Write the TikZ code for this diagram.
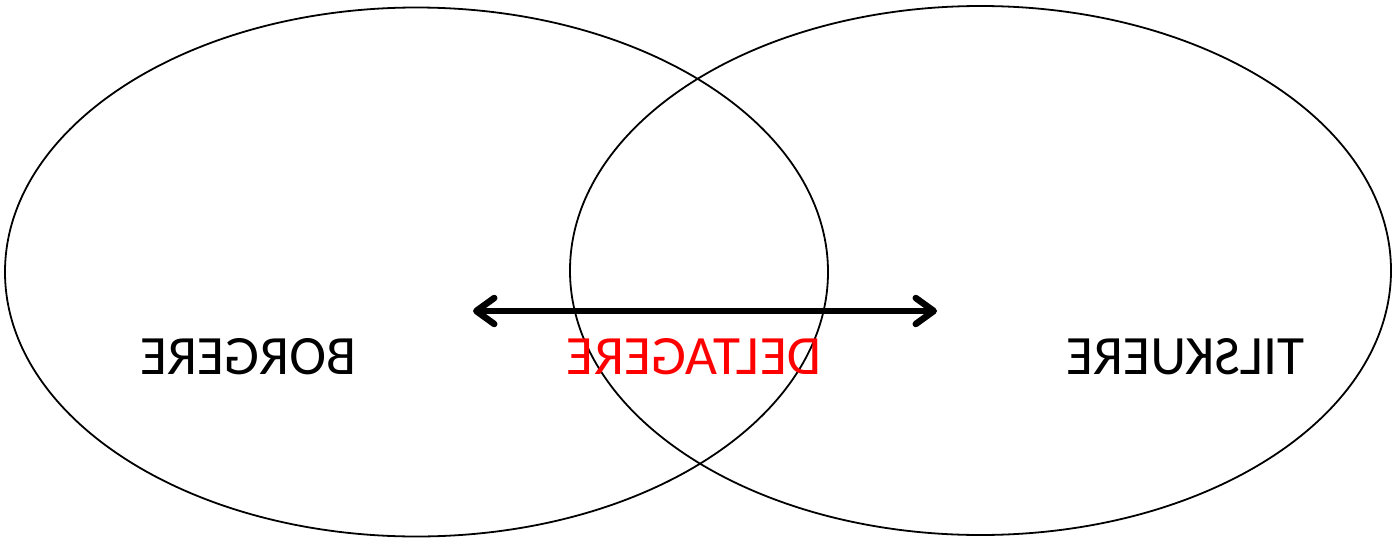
\documentclass[tikz,border=0pt]{standalone}
\usepackage{fontspec}
\setmainfont{Carlito}
\usetikzlibrary{arrows.meta}
\tikzset{
  setlabel/.style={xscale=-1, inner sep=0pt, font=\fontsize{55.5}{60}\selectfont},
  venn/.style={draw, line width=1.8pt},
}
\begin{document}
\begin{tikzpicture}[x=1pt, y=-1pt]
  \useasboundingbox (0,0) rectangle (1393,541);
  % the two sets
  \draw[venn] (416.5,272) ellipse [x radius=411.5, y radius=264.5];
  \draw[venn] (980.5,270.5) ellipse [x radius=410.5, y radius=264.5];
  % labels (mirrored)
  \node[setlabel] (borgere) at (248.5,357) {BORGERE};
  \node[setlabel, text=red] (deltagere) at (694,357) {DELTAGERE};
  \node[setlabel] (tilskuere) at (1185.5,357) {TILSKUERE};
  % double arrow
  \coordinate (pl) at (473,311);
  \coordinate (pr) at (937,311);
  \draw[line width=6.5pt, {Straight Barb[round, length=18pt, width=26pt]}-{Straight Barb[round, length=18pt, width=26pt]}] (pl) -- (pr);
\end{tikzpicture}
\end{document}
